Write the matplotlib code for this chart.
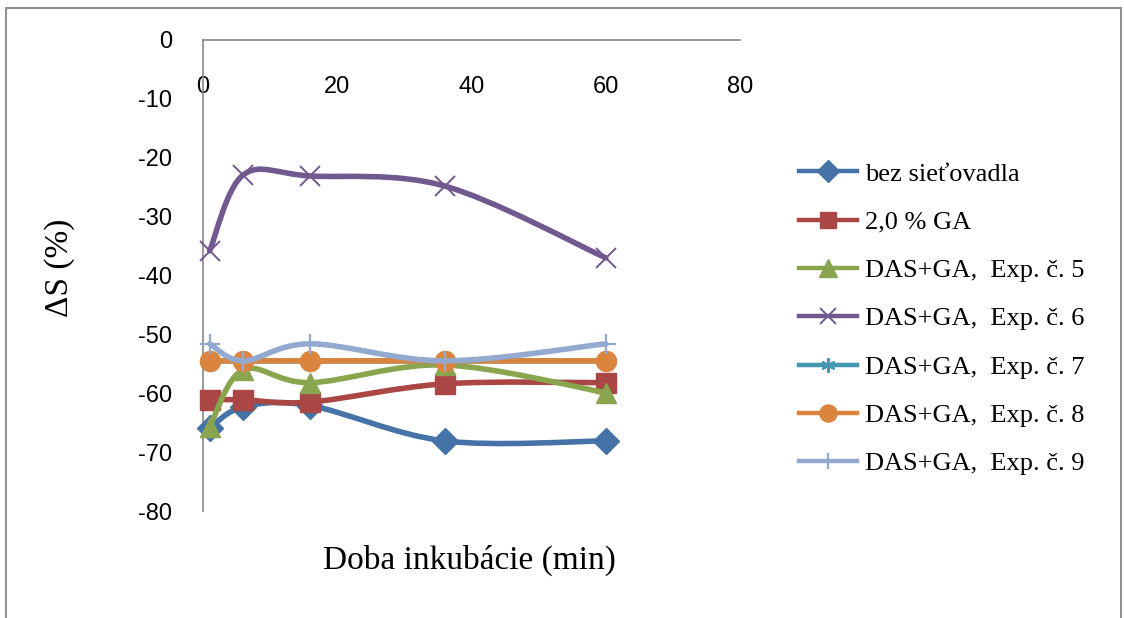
import numpy as np
import matplotlib.pyplot as plt
from matplotlib.path import Path
from matplotlib.patches import PathPatch, Rectangle
from matplotlib.lines import Line2D

plt.rcParams['axes.unicode_minus'] = False

# incubation time (min)
time_min = [1, 6, 16, 36, 60]

bez_sietovadla = [-65.9, -62.3, -62.1, -68.1, -68.1]
ga_2 = [-61.1, -61.1, -61.5, -58.4, -58.2]
exp5 = [-65.7, -56.0, -58.2, -55.2, -59.9]
exp6 = [-35.8, -22.9, -23.1, -24.8, -37.0]
exp7 = [-54.5, -54.5, -54.5, -54.5, -54.5]
exp8 = [-54.5, -54.5, -54.5, -54.5, -54.5]
exp9 = [-51.6, -54.5, -51.6, -54.5, -51.6]

labels = ["bez sieťovadla", "2,0 % GA", "DAS+GA,  Exp. č. 5", "DAS+GA,  Exp. č. 6",
          "DAS+GA,  Exp. č. 7", "DAS+GA,  Exp. č. 8", "DAS+GA,  Exp. č. 9"]
series = [bez_sietovadla, ga_2, exp5, exp6, exp7, exp8, exp9]

colors = ['#4572A7', '#AA4643', '#89A54E', '#71588F', '#4198AF', '#DB843D', '#93A9CF']
markers = ['D', 's', '^', 'x', (6, 2, 0), 'o', '+']
msizes = [13, 14, 15, 14, 12, 14.5, 14]
medges = [1, 1, 1, 1.4, 1.6, 1, 1.6]


def smooth_path(xs, ys):
    # excel-like smoothed line: cubic bezier segments, catmull-rom control points
    pts = np.column_stack([xs, ys]).astype(float)
    n = len(pts)
    verts = [pts[0]]
    codes = [Path.MOVETO]
    for i in range(n - 1):
        p0 = pts[i - 1] if i > 0 else pts[i]
        p1 = pts[i]
        p2 = pts[i + 1]
        p3 = pts[i + 2] if i + 2 < n else pts[i + 1]
        c1 = p1 + (p2 - p0) / 6.0
        c2 = p2 - (p3 - p1) / 6.0
        verts += [c1, c2, p2]
        codes += [Path.CURVE4] * 3
    return Path(verts, codes)


fig = plt.figure(figsize=(11.24, 6.18), dpi=100)
ax = fig.add_axes([203 / 1124, 1 - 511 / 618, (740 - 203) / 1124, (511 - 40) / 618])

for i, (ys, c) in enumerate(zip(series, colors)):
    patch = PathPatch(smooth_path(time_min, ys), facecolor='none', edgecolor=c,
                      lw=4.0, zorder=2 + i * 2, capstyle='round', joinstyle='round')
    ax.add_patch(patch)
    ax.plot(time_min, ys, linestyle='none', marker=markers[i], markersize=msizes[i],
            color=c, markeredgecolor=c, markeredgewidth=medges[i],
            zorder=3 + i * 2, clip_on=False)

ax.set_xlim(0, 80)
ax.set_ylim(-80, 0)
ax.set_xticks([0, 20, 40, 60, 80])
ax.set_yticks(np.arange(-80, 1, 10))

ax.spines['top'].set_visible(False)
ax.spines['right'].set_visible(False)
ax.spines['bottom'].set_position(('data', 0))
for s in ('left', 'bottom'):
    ax.spines[s].set_color('#868686')
    ax.spines[s].set_linewidth(1.2)

ax.tick_params(axis='x', length=0, pad=26, labelsize=17)
ax.tick_params(axis='y', length=0, pad=22, labelsize=17)
for t in ax.get_xticklabels() + ax.get_yticklabels():
    t.set_fontfamily('Liberation Sans')

fig.text(469 / 1124, 1 - 560 / 618, "Doba inkubácie (min)", ha='center', va='center',
         fontsize=24, family='Liberation Serif')
fig.text(60 / 1124, 1 - 268 / 618, "ΔS (%)", ha='center', va='center', rotation=90,
         fontsize=24, family='Liberation Serif')

handles = [Line2D([], [], color=c, lw=3.2, marker=m, markersize=ms * 0.85,
                  markeredgecolor=c, markeredgewidth=me)
           for c, m, ms, me in zip(colors, markers, msizes, medges)]
fig.legend(handles, labels, loc='upper left', bbox_to_anchor=(786 / 1124, 1 - 149 / 618),
           frameon=False, prop={'family': 'Liberation Serif', 'size': 19},
           handlelength=2.2, handletextpad=0.3, labelspacing=0.94, borderpad=0)

# outer chart border
fig.patches.append(Rectangle((6 / 1124, -0.1), (1121 - 6) / 1124, 1 - 8 / 618 + 0.1,
                             transform=fig.transFigure, fill=False,
                             edgecolor='#8c8c8c', lw=1.4))

fig.savefig('out.png', dpi=100)
